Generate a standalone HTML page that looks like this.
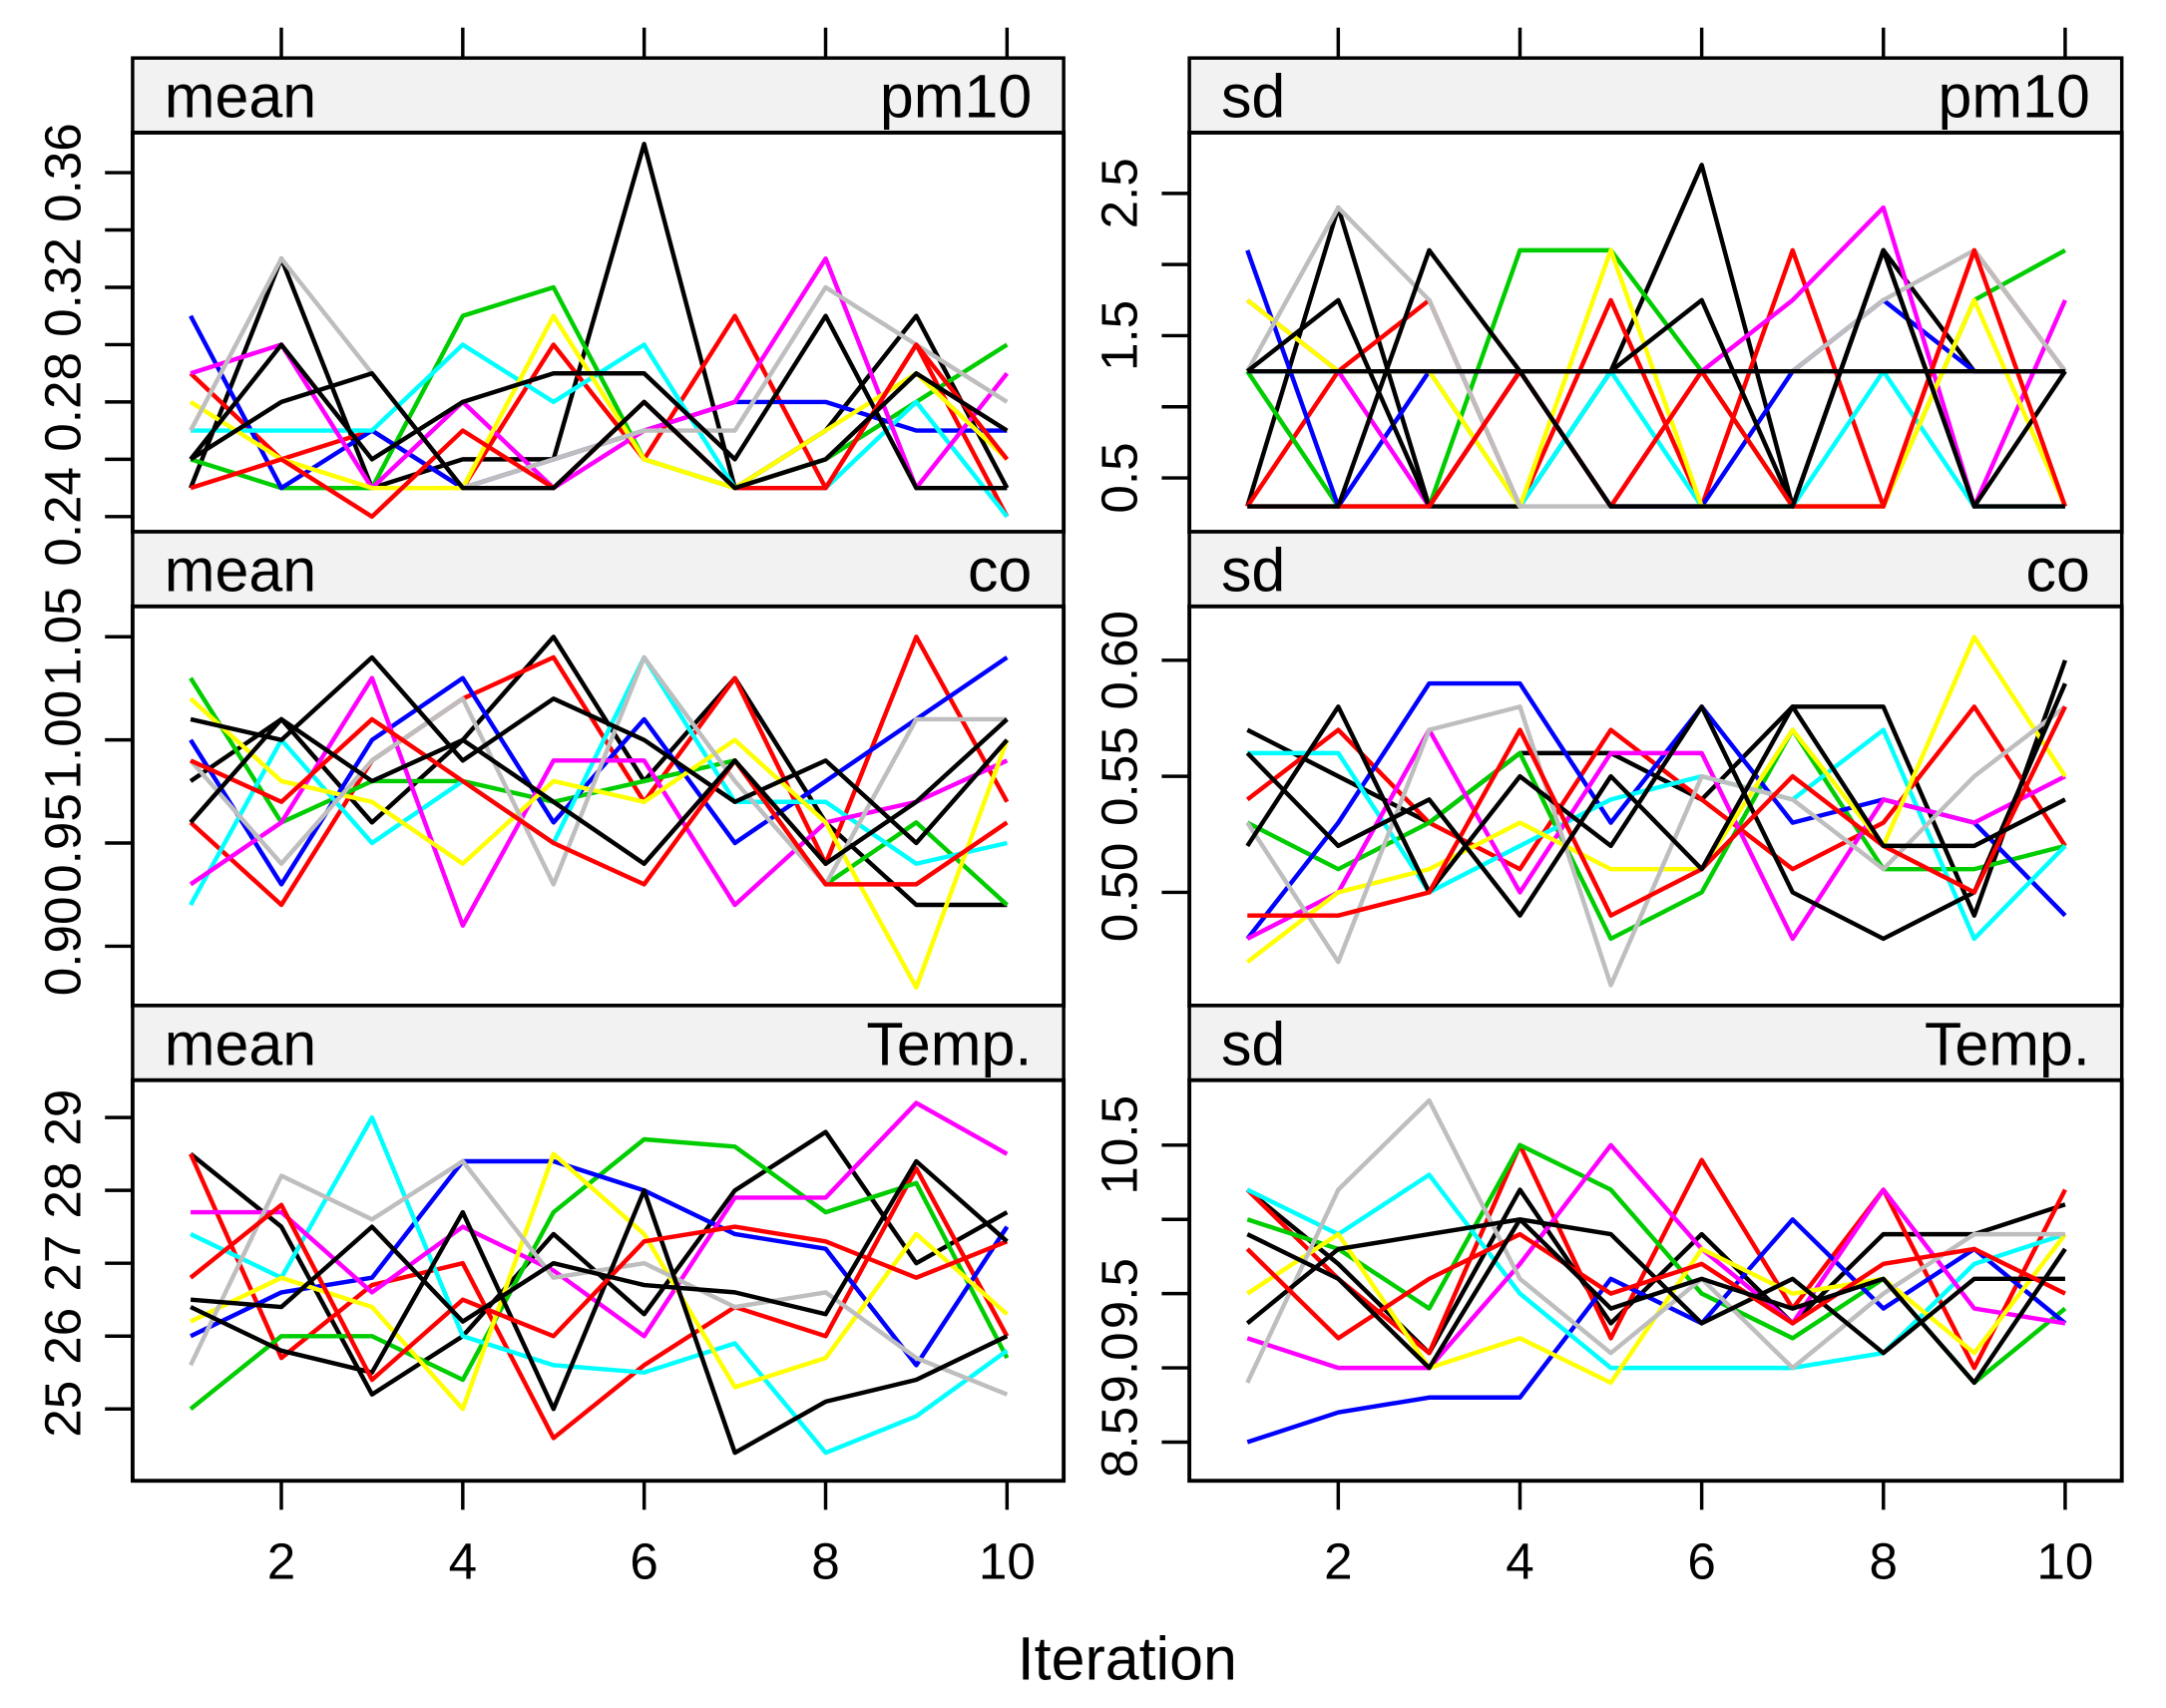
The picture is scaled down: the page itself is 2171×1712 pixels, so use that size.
<!DOCTYPE html>
<html><head><meta charset="utf-8"><style>
html,body{margin:0;padding:0;background:#fff}
svg{display:block}
text{font-family:"Liberation Sans",Arial,sans-serif;fill:#000}
</style></head><body>
<svg id="chart" xmlns="http://www.w3.org/2000/svg" width="2171" height="1712" viewBox="0 0 1568 1236.5" preserveAspectRatio="none">
<defs></defs>
<g id="root"></g>
<text x="816" y="1216" font-size="44" text-anchor="middle">Iteration</text>
</svg>
<script>
const iterations=[1,2,3,4,5,6,7,8,9,10];
const colors=["#000000","#FF0000","#00CD00","#0000FF","#00FFFF","#FF00FF","#FFFF00","#BEBEBE","#000000","#FF0000","#000000","#000000"];
const meanPm10=[
[0.25,0.33,0.25,0.26,0.26,0.37,0.25,0.27,0.31,0.25],
[0.29,0.26,0.27,0.25,0.30,0.26,0.31,0.25,0.30,0.24],
[0.26,0.25,0.25,0.31,0.32,0.26,0.25,0.26,0.28,0.30],
[0.31,0.25,0.27,0.25,0.26,0.27,0.28,0.28,0.27,0.27],
[0.27,0.27,0.27,0.30,0.28,0.30,0.25,0.25,0.28,0.24],
[0.29,0.30,0.25,0.28,0.25,0.27,0.28,0.33,0.25,0.29],
[0.28,0.26,0.25,0.25,0.31,0.26,0.25,0.27,0.29,0.26],
[0.27,0.33,0.29,0.25,0.26,0.27,0.27,0.32,0.30,0.28],
[0.26,0.30,0.26,0.28,0.29,0.29,0.26,0.31,0.25,0.25],
[0.25,0.26,0.24,0.27,0.25,0.28,0.25,0.25,0.30,0.26],
[0.26,0.28,0.29,0.25,0.25,0.28,0.25,0.26,0.29,0.27]];
const sdPm10=[
[0.3,2.4,0.3,0.3,1.25,2.7,0.3,2.1,1.25,1.25],
[0.3,1.25,1.75,0.3,1.75,0.3,2.1,0.3,2.1,1.25],
[1.25,0.3,0.3,2.1,2.1,1.25,0.3,0.3,1.75,2.1],
[2.1,0.3,1.25,1.25,0.3,0.3,1.25,1.75,1.25,1.25],
[1.25,1.25,1.25,0.3,1.25,0.3,0.3,1.25,0.3,0.3],
[1.75,1.25,0.3,1.25,0.3,1.25,1.75,2.4,0.3,1.75],
[1.75,1.25,1.25,0.3,2.1,0.3,0.3,0.3,1.75,0.3],
[1.25,2.4,1.75,0.3,0.3,1.25,1.25,1.75,2.1,1.25],
[1.25,1.75,0.3,1.25,1.25,1.75,0.3,2.1,0.3,1.25],
[0.3,0.3,0.3,1.25,0.3,1.25,0.3,0.3,2.1,0.3],
[1.25,1.25,1.25,1.25,1.25,1.25,1.25,1.25,1.25,1.25],
[0.3,0.3,2.1,1.25,0.3,0.3,0.3,2.1,0.3,0.3]];
const meanCo=[
[0.98,1.01,0.96,1.00,1.05,0.98,1.03,0.96,0.92,0.92],
[0.96,0.92,0.99,1.02,1.04,0.97,1.03,0.94,1.05,0.97],
[1.03,0.96,0.98,0.98,0.97,0.98,0.99,0.93,0.96,0.92],
[1.00,0.93,1.00,1.03,0.96,1.01,0.95,0.98,1.01,1.04],
[0.92,1.00,0.95,0.98,0.95,1.04,0.97,0.97,0.94,0.95],
[0.93,0.96,1.03,0.91,0.99,0.99,0.92,0.96,0.97,0.99],
[1.02,0.98,0.97,0.94,0.98,0.97,1.00,0.96,0.88,1.00],
[0.99,0.94,0.99,1.02,0.93,1.04,0.98,0.93,1.01,1.01],
[1.01,1.00,1.04,0.99,1.02,1.00,0.97,0.99,0.95,1.00],
[0.99,0.97,1.01,0.98,0.95,0.93,0.99,0.93,0.93,0.96],
[0.96,1.01,0.98,1.00,0.97,0.94,0.99,0.94,0.97,1.01]];
const sdCo=[
[0.57,0.55,0.53,0.56,0.56,0.54,0.58,0.58,0.49,0.60],
[0.54,0.57,0.53,0.51,0.57,0.54,0.51,0.53,0.58,0.52],
[0.53,0.51,0.53,0.56,0.48,0.50,0.57,0.51,0.51,0.52],
[0.48,0.53,0.59,0.59,0.53,0.58,0.53,0.54,0.53,0.49],
[0.56,0.56,0.50,0.52,0.54,0.55,0.54,0.57,0.48,0.52],
[0.48,0.50,0.57,0.50,0.56,0.56,0.48,0.54,0.53,0.55],
[0.47,0.50,0.51,0.53,0.51,0.51,0.57,0.52,0.61,0.55],
[0.53,0.47,0.57,0.58,0.46,0.55,0.54,0.51,0.55,0.58],
[0.52,0.58,0.50,0.55,0.52,0.58,0.50,0.48,0.50,0.59],
[0.49,0.49,0.50,0.57,0.49,0.51,0.55,0.52,0.50,0.58],
[0.56,0.52,0.54,0.49,0.55,0.51,0.58,0.52,0.52,0.54]];
const meanTemp=[
[28.5,27.5,25.2,26.0,27.4,26.3,28.0,28.8,27.0,27.7],
[28.5,25.7,26.7,27.0,24.6,25.6,26.4,26.0,28.3,26.0],
[25.0,26.0,26.0,25.4,27.7,28.7,28.6,27.7,28.1,25.7],
[26.0,26.6,26.8,28.4,28.4,28.0,27.4,27.2,25.6,27.5],
[27.4,26.8,29.0,26.0,25.6,25.5,25.9,24.4,24.9,25.8],
[27.7,27.7,26.6,27.5,26.9,26.0,27.9,27.9,29.2,28.5],
[26.2,26.8,26.4,25.0,28.5,27.4,25.3,25.7,27.4,26.3],
[25.6,28.2,27.6,28.4,26.8,27.0,26.4,26.6,25.7,25.2],
[26.4,25.8,25.5,27.7,25.0,28.0,24.4,25.1,25.4,26.0],
[26.8,27.8,25.4,26.5,26.0,27.3,27.5,27.3,26.8,27.3],
[26.5,26.4,27.5,26.2,27.0,26.7,26.6,26.3,28.4,27.3]];
const sdTemp=[
[10.2,9.7,9.1,10.2,9.3,9.9,9.3,9.9,9.9,10.1],
[10.2,9.6,9.1,10.5,9.2,10.4,9.4,10.2,9.0,10.2],
[10.0,9.8,9.4,10.5,10.2,9.5,9.2,9.6,8.9,9.4],
[8.5,8.7,8.8,8.8,9.6,9.3,10.0,9.4,9.8,9.3],
[10.2,9.9,10.3,9.5,9.0,9.0,9.0,9.1,9.7,9.9],
[9.2,9.0,9.0,9.7,10.5,9.8,9.3,10.2,9.4,9.3],
[9.5,9.9,9.0,9.2,8.9,9.8,9.5,9.6,9.1,9.9],
[8.9,10.2,10.8,9.6,9.1,9.6,9.0,9.5,9.9,9.9],
[9.3,9.8,9.9,10.0,9.9,9.3,9.6,9.1,9.6,9.6],
[9.8,9.2,9.6,9.9,9.5,9.7,9.3,9.7,9.8,9.5],
[9.9,9.6,9.0,10.0,9.4,9.6,9.4,9.6,8.9,9.8]];
const xTickLabels=[2,4,6,8,10];
const ticksMeanPm10=[0.24,0.28,0.32,0.36];
const ticksSdPm10=[0.5,1.5,2.5];
const ticksMeanCo=[0.90,0.95,1.00,1.05];
const ticksSdCo=[0.50,0.55,0.60];
const ticksMeanTemp=[25,26,27,28,29];
const ticksSdTemp=[8.5,9.0,9.5,10.5];
const minorSdPm10=[0.5,1.0,1.5,2.0,2.5];
const minorSdTemp=[8.5,9.0,9.5,10.0,10.5];

const NS="http://www.w3.org/2000/svg";
const root=document.getElementById('root');
const defs=document.querySelector('defs');
function mk(tag,attrs,parent){const e=document.createElementNS(NS,tag);for(const k in attrs)e.setAttribute(k,attrs[k]);(parent||root).appendChild(e);return e;}

const cols=[{x0:96,x1:770,ax0:138,ax1:729},{x0:861,x1:1536,ax0:903,ax1:1495}];
const rows=[{s0:42,p0:96,p1:385},{s0:385,p0:439,p1:728},{s0:728,p0:782,p1:1072}];
const panels=[
{c:0,r:0,stat:"mean",v:"pm10",data:meanPm10,ticks:ticksMeanPm10,minor:[0.24,0.26,0.28,0.30,0.32,0.34,0.36],vA:0.24,yA:374,vB:0.36,yB:125,dec:2,name:"mean-pm10"},
{c:1,r:0,stat:"sd",v:"pm10",data:sdPm10,ticks:ticksSdPm10,minor:minorSdPm10,vA:0.5,yA:346,vB:2.5,yB:140,dec:1,name:"sd-pm10"},
{c:0,r:1,stat:"mean",v:"co",data:meanCo,ticks:ticksMeanCo,minor:ticksMeanCo,vA:0.90,yA:685,vB:1.05,yB:461,dec:2,name:"mean-co"},
{c:1,r:1,stat:"sd",v:"co",data:sdCo,ticks:ticksSdCo,minor:ticksSdCo,vA:0.50,yA:646,vB:0.60,yB:478,dec:2,name:"sd-co"},
{c:0,r:2,stat:"mean",v:"Temp.",data:meanTemp,ticks:ticksMeanTemp,minor:ticksMeanTemp,vA:25,yA:1020,vB:29,yB:809,dec:0,name:"mean-temp"},
{c:1,r:2,stat:"sd",v:"Temp.",data:sdTemp,ticks:ticksSdTemp,minor:minorSdTemp,vA:8.5,yA:1044,vB:10.5,yB:829,dec:1,name:"sd-temp"}];

panels.forEach((p,pi)=>{
  const C=cols[p.c],R=rows[p.r];
  const g=mk('g',{});
  
  
  const xs=i=>C.ax0+(i-1)*(C.ax1-C.ax0)/9;
  const ys=v=>p.yA+(v-p.vA)*(p.yB-p.yA)/(p.vB-p.vA);
  const cp=mk('clipPath',{id:'cp'+pi},defs);
  mk('rect',{x:C.x0,y:R.p0,width:C.x1-C.x0,height:R.p1-R.p0},cp);
  const strip=mk('rect',{x:C.x0,y:R.s0,width:C.x1-C.x0,height:R.p0-R.s0,fill:'#F2F2F2',stroke:'#000','stroke-width':2.5},g);
  
  
  const t1=mk('text',{x:C.x0+23,y:R.s0+43,'font-size':44},g);t1.textContent=p.stat;
  
  
  const t2=mk('text',{x:C.x1-23,y:R.s0+43,'font-size':44,'text-anchor':'end'},g);t2.textContent=p.v;
  
  
  const lg=mk('g',{'clip-path':'url(#cp'+pi+')'},g);
  p.data.forEach((s,si)=>{
    const d=s.map((v,i)=>(i?'L':'M')+xs(iterations[i]).toFixed(1)+' '+ys(v).toFixed(1)).join(' ');
    const l=mk('path',{d:d,fill:'none',stroke:colors[si%colors.length],'stroke-width':3.2,'stroke-linejoin':'round'},lg);
    
    
  });
  const fr=mk('rect',{x:C.x0,y:R.p0,width:C.x1-C.x0,height:R.p1-R.p0,fill:'none',stroke:'#000','stroke-width':2.8},g);
  
  
  p.minor.forEach(v=>{mk('line',{x1:C.x0-20,x2:C.x0,y1:ys(v),y2:ys(v),stroke:'#000','stroke-width':2.5},g);});
  p.ticks.forEach(v=>{
    const y=ys(v);
    const tx=mk('text',{x:0,y:0,'font-size':37,'text-anchor':'middle',transform:'translate('+(C.x0-38)+','+y+') rotate(-90)'},g);
    tx.textContent=v.toFixed(p.dec);
    
    
  });
  if(p.r===0){xTickLabels.forEach(v=>{mk('line',{x1:xs(v),x2:xs(v),y1:20,y2:42,stroke:'#000','stroke-width':2.5},g);});}
  if(p.r===2){xTickLabels.forEach(v=>{
    mk('line',{x1:xs(v),x2:xs(v),y1:1072,y2:1093,stroke:'#000','stroke-width':2.5},g);
    const tx=mk('text',{x:xs(v),y:1143,'font-size':37,'text-anchor':'middle'},g);tx.textContent=v;
    
    
  });}
});
</script>
</body></html>
